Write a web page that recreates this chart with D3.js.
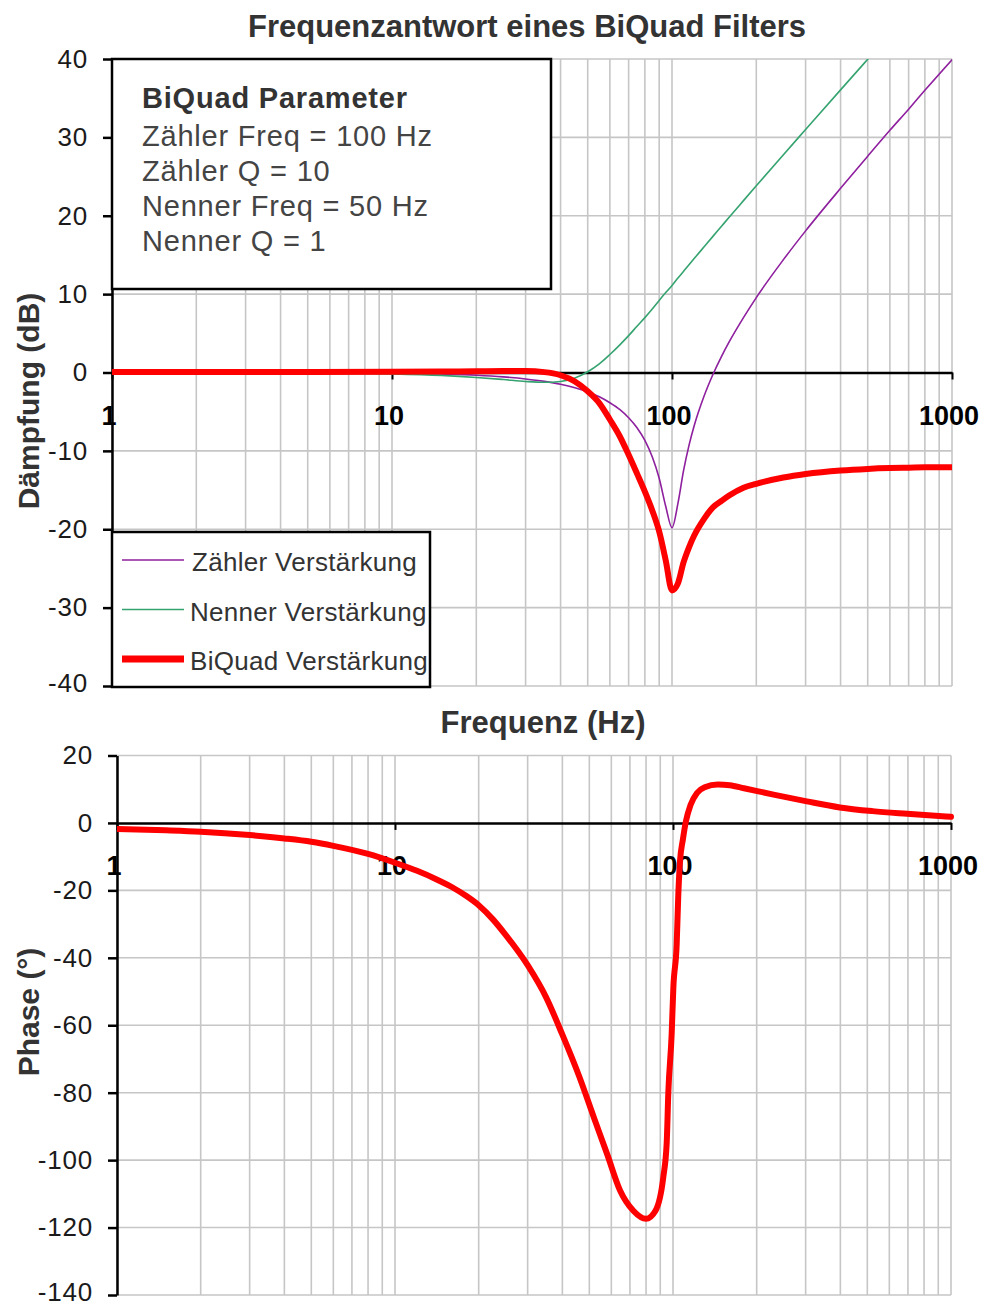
<!DOCTYPE html>
<html>
<head>
<meta charset="utf-8">
<script src="https://cdn.jsdelivr.net/npm/d3@7"></script>
<style>
  html, body { margin: 0; padding: 0; background: #fff; }
  svg { display: block; font-family: "Liberation Sans", Arial, sans-serif; }
</style>
</head>
<body>
<svg id="chart" width="987" height="1307"></svg>
<script>
// ---------------- DATA ----------------
const chartTitle = "Frequenzantwort eines BiQuad Filters";
const xTitle = "Frequenz (Hz)";
const magTitle = "Dämpfung (dB)";
const phaseTitle = "Phase (°)";
const paramLines = ["Zähler Freq = 100 Hz", "Zähler Q = 10", "Nenner Freq = 50 Hz", "Nenner Q = 1"];
const paramHeader = "BiQuad Parameter";
const seriesNames = ["Zähler Verstärkung", "Nenner Verstärkung", "BiQuad Verstärkung"];

const xTickValues = [1, 10, 100, 1000];
const magTickValues = [40, 30, 20, 10, 0, -10, -20, -30, -40];
const phaseTickValues = [20, 0, -20, -40, -60, -80, -100, -120, -140];

// magnitude (dB)
const freqMag   = [1, 2, 5, 10, 15, 20, 25, 30, 35, 40, 45, 50, 55, 60, 65, 70, 75, 80, 85, 90, 95, 100, 105, 110, 115, 120, 130, 140, 150, 160, 180, 200, 250, 300, 400, 500, 600, 700, 800, 1000];
const zaehlerDb = [0, 0, -0.02, -0.09, -0.2, -0.35, -0.56, -0.82, -1.13, -1.5, -1.95, -2.48, -3.1, -3.86, -4.71, -5.77, -7.05, -8.66, -10.75, -13.5, -17.1, -19.8, -16.7, -12.5, -9.3, -6.8, -3.07, -0.26, 2.0, 3.9, 7.0, 9.56, 14.4, 18.07, 23.5, 27.6, 30.9, 33.6, 36.0, 39.9];
const nennerDb  = [0, -0.01, -0.04, -0.17, -0.37, -0.63, -0.9, -1.14, -1.25, -1.14, -0.7, 0.1, 1.1, 2.3, 3.5, 4.7, 5.9, 7.0, 8.1, 9.2, 10.2, 11.1, 12.05, 12.92, 13.75, 14.54, 16.01, 17.37, 18.63, 19.81, 21.93, 23.82, 27.79, 31.0, 36.06, 39.96, 43.14, 45.82, 48.15, 52.03];
const biquadDb  = [0.05, 0.05, 0.05, 0.08, 0.12, 0.15, 0.18, 0.18, 0.05, -0.35, -1.15, -2.4, -3.9, -6.0, -8.1, -10.5, -12.9, -15.2, -17.6, -20.3, -24.0, -27.8, -26.9, -24.2, -22.3, -20.8, -18.7, -17.2, -16.4, -15.7, -14.7, -14.2, -13.4, -12.95, -12.5, -12.3, -12.2, -12.15, -12.1, -12.1];

// phase (degrees)
const freqPhase = [1, 1.5, 2, 3, 4, 5, 6, 8, 10, 12, 14, 16, 18, 20, 22.5, 25, 30, 35, 40, 46, 52, 58, 64.5, 72, 80, 86.5, 92.3, 94.9, 96.2, 98.9, 100.3, 103.1, 104.5, 106, 108.5, 111.3, 115.7, 122, 130, 145, 160, 180, 230, 303, 398, 522, 695, 1000];
const phaseDeg  = [-1.8, -2.2, -2.6, -3.6, -4.6, -5.6, -6.8, -9.2, -11.8, -14.2, -16.6, -19.0, -21.6, -24.4, -28.6, -33.2, -42.2, -51.8, -62.8, -75.2, -87.5, -98.3, -109, -115, -117.4, -115, -105, -95, -80, -62.6, -48.8, -36, -21.2, -11.3, -5, 0.5, 5.4, 8.9, 10.6, 11.4, 11.2, 10.3, 8.4, 6.4, 4.6, 3.5, 2.7, 1.8];

// ---------------- STYLE ----------------
const colZaehler = "#8e1f9e";
const colNenner = "#35a36f";
const colBiquad = "#ff0000";
const gridCol = "#c6c6c6";
const textDark = "#333333";

const svg = d3.select("#chart");

// scales
const xTop = d3.scaleLog().domain([1, 1000]).range([112, 952]);
const yTop = d3.scaleLinear().domain([-40, 40]).range([686, 59]);
const xBot = d3.scaleLog().domain([1, 1000]).range([117, 951]);
const yBot = d3.scaleLinear().domain([-140, 20]).range([1295, 755.5]);

const defs = svg.append("defs");
defs.append("clipPath").attr("id", "clipTop").append("rect")
  .attr("x", xTop.range()[0]).attr("y", yTop.range()[1])
  .attr("width", xTop.range()[1] - xTop.range()[0])
  .attr("height", yTop.range()[0] - yTop.range()[1]);
defs.append("clipPath").attr("id", "clipBot").append("rect")
  .attr("x", xBot.range()[0]).attr("y", yBot.range()[1] - 4)
  .attr("width", xBot.range()[1] - xBot.range()[0] + 4)
  .attr("height", yBot.range()[0] - yBot.range()[1] + 4);

function drawPanel(x, y, yTicks, clipId, curves) {
  const g = svg.append("g");
  const [x0, x1] = x.range();
  const [yb, yt] = y.range();
  // vertical grid (all log ticks)
  g.append("g").selectAll("line").data(x.ticks()).join("line")
    .attr("x1", d => x(d)).attr("x2", d => x(d))
    .attr("y1", yt).attr("y2", yb)
    .attr("stroke", gridCol).attr("stroke-width", 1.6);
  // horizontal grid
  g.append("g").selectAll("line").data(yTicks.filter(d => d !== 0)).join("line")
    .attr("x1", x0).attr("x2", x1)
    .attr("y1", d => y(d)).attr("y2", d => y(d))
    .attr("stroke", gridCol).attr("stroke-width", 1.6);

  // y axis
  const yAxis = d3.axisLeft(y).tickValues(yTicks).tickSize(9).tickSizeOuter(0).tickPadding(15)
    .tickFormat(d => d < 0 ? "-" + Math.abs(d) : String(d));
  const ya = g.append("g").attr("transform", `translate(${x0},0)`).call(yAxis);
  ya.select(".domain").attr("stroke", "#000").attr("stroke-width", 2.5);
  ya.selectAll(".tick line").attr("stroke", "#000").attr("stroke-width", 2.5);
  ya.selectAll(".tick text").attr("font-size", 26).attr("fill", "#1a1a1a")
    .attr("letter-spacing", 0.8)
    .attr("dy", d => d === yTicks[yTicks.length - 1] ? "0.2em" : "0.32em")
    .attr("font-family", "'Liberation Sans', Arial, sans-serif");

  // x axis at y=0
  const xAxis = d3.axisBottom(x).tickValues(xTickValues).tickSize(7).tickSizeOuter(0).tickFormat("");
  const xa = g.append("g").attr("transform", `translate(0,${y(0)})`).call(xAxis);
  xa.select(".domain").attr("stroke", "#000").attr("stroke-width", 2.5);
  xa.selectAll(".tick line").attr("stroke", "#000").attr("stroke-width", 2);
  // bold tick labels
  g.append("g").selectAll("text").data(xTickValues).join("text")
    .attr("x", d => x(d) - 3).attr("y", y(0) + 52)
    .attr("text-anchor", "middle")
    .attr("font-size", 27).attr("font-weight", "bold").attr("fill", "#000")
    .text(d => String(d));

  // curves
  const cg = g.append("g").attr("clip-path", `url(#${clipId})`);
  curves.forEach(c => {
    const line = d3.line().x(d => x(d[0])).y(d => y(d[1])).curve(d3.curveMonotoneX);
    cg.append("path").datum(d3.zip(c.f, c.v))
      .attr("d", line).attr("fill", "none")
      .attr("stroke", c.color).attr("stroke-width", c.width)
      .attr("stroke-linejoin", "round").attr("stroke-linecap", "round");
  });
  return g;
}

drawPanel(xTop, yTop, magTickValues, "clipTop", [
  { f: freqMag, v: zaehlerDb, color: colZaehler, width: 1.6 },
  { f: freqMag, v: nennerDb, color: colNenner, width: 1.6 },
  { f: freqMag, v: biquadDb, color: colBiquad, width: 6 }
]);

drawPanel(xBot, yBot, phaseTickValues, "clipBot", [
  { f: freqPhase, v: phaseDeg, color: colBiquad, width: 6 }
]);

// title
svg.append("text").attr("x", 527).attr("y", 37).attr("text-anchor", "middle")
  .attr("font-size", 31).attr("font-weight", "bold").attr("fill", textDark)
  .text(chartTitle);

// x axis title
svg.append("text").attr("x", 543).attr("y", 733).attr("text-anchor", "middle")
  .attr("font-size", 31).attr("font-weight", "bold").attr("fill", textDark)
  .text(xTitle);

// y axis titles
svg.append("text").attr("transform", "translate(39,401) rotate(-90)").attr("text-anchor", "middle")
  .attr("font-size", 30).attr("font-weight", "bold").attr("fill", textDark)
  .text(magTitle);
svg.append("text").attr("transform", "translate(39,1012) rotate(-90)").attr("text-anchor", "middle")
  .attr("font-size", 30).attr("font-weight", "bold").attr("fill", textDark)
  .text(phaseTitle);

// parameter box
const pb = svg.append("g");
pb.append("rect").attr("x", 112).attr("y", 59).attr("width", 439).attr("height", 230)
  .attr("fill", "#fff").attr("stroke", "#000").attr("stroke-width", 2.5);
pb.append("text").attr("x", 142).attr("y", 108).attr("font-size", 29).attr("font-weight", "bold")
  .attr("fill", textDark).attr("letter-spacing", 0.8).text(paramHeader);
pb.selectAll("text.p").data(paramLines).join("text").attr("class", "p")
  .attr("x", 142).attr("y", (d, i) => 145.5 + i * 35.2)
  .attr("font-size", 29).attr("fill", "#444").attr("letter-spacing", 0.8)
  .text(d => d);

// legend
const lg = svg.append("g");
lg.append("rect").attr("x", 112).attr("y", 532).attr("width", 318).attr("height", 155)
  .attr("fill", "#fff").attr("stroke", "#000").attr("stroke-width", 2.5);
const legendItems = [
  { name: seriesNames[0], color: colZaehler, width: 1.6 },
  { name: seriesNames[1], color: colNenner, width: 1.6 },
  { name: seriesNames[2], color: colBiquad, width: 7 }
];
legendItems.forEach((it, i) => {
  const cy = 560 + i * 49.5;
  lg.append("line").attr("x1", 122).attr("x2", 184).attr("y1", cy).attr("y2", cy)
    .attr("stroke", it.color).attr("stroke-width", it.width);
  lg.append("text").attr("x", i === 0 ? 192 : 190).attr("y", cy + 11)
    .attr("font-size", 26).attr("fill", textDark).attr("letter-spacing", 0.3)
    .text(it.name);
});
</script>
</body>
</html>
